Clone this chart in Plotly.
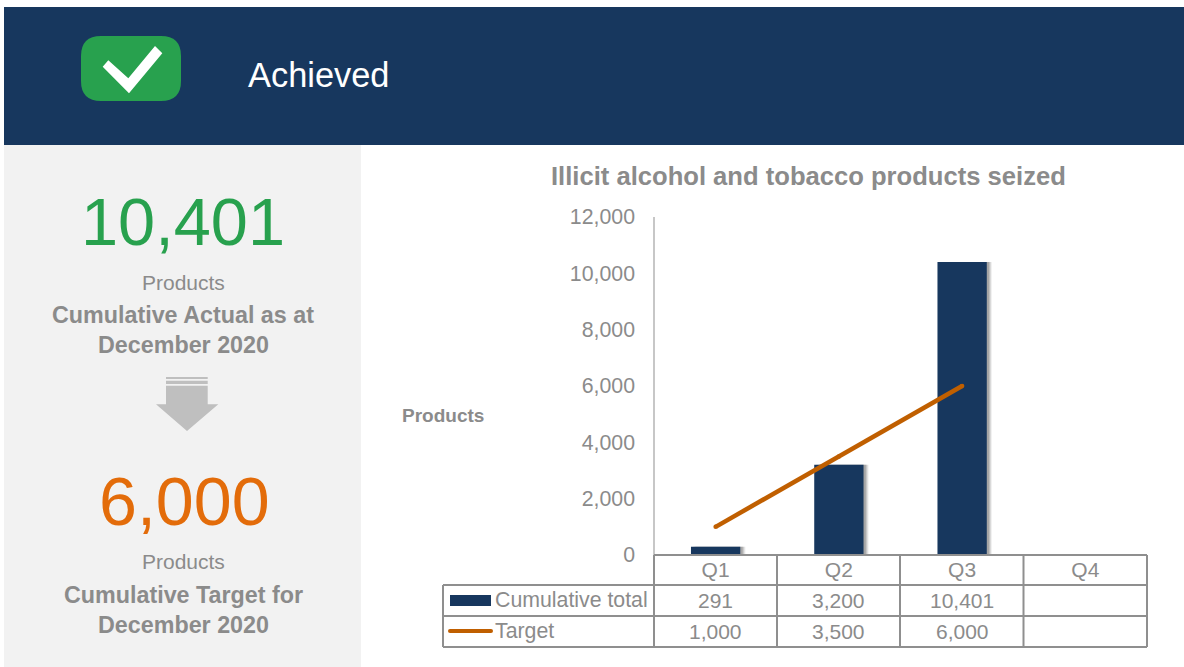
import plotly.graph_objects as go

quarters = ["Q1", "Q2", "Q3", "Q4"]
cumulative_total = [291, 3200, 10401, None]
target = [1000, 3500, 6000, None]
y_ticks = [0, 2000, 4000, 6000, 8000, 10000, 12000]

NAVY = "#17375e"
LINE = "#c05f00"
GREY = "#8b8b8b"
RULE = "#8f8f8f"
FONT = "Liberation Sans, Arial, sans-serif"
W, H = 1184, 667
PL, PR, PT, PB = 654, 1147, 217, 555


def px(x):
    return x / W


def py(y):
    return 1 - y / H


def fmt(v):
    return "" if v is None else f"{v:,}"


fig = go.Figure()

# soft shadow layers behind the bars
for off, alpha in [(0.042, 0.08), (0.034, 0.12), (0.026, 0.16), (0.018, 0.2)]:
    fig.add_trace(go.Bar(x=list(range(4)), y=cumulative_total, width=0.4, offset=-0.2 + off,
                         marker=dict(color=f"rgba(60,60,60,{alpha})", line_width=0),
                         hoverinfo="skip", showlegend=False))
fig.add_trace(go.Bar(x=list(range(4)), y=cumulative_total, width=0.4, offset=-0.2,
                     marker=dict(color=NAVY, line_width=0), name="Cumulative total"))
fig.add_trace(go.Scatter(x=list(range(4)), y=target, mode="lines+markers", name="Target",
                         line=dict(color=LINE, width=4.5), marker=dict(color=LINE, size=4.5)))

shapes = []


def rect(x0, y0, x1, y1, color):
    shapes.append(dict(type="rect", xref="paper", yref="paper", x0=px(x0), x1=px(x1), y0=py(y0), y1=py(y1),
                       fillcolor=color, line_width=0, layer="below"))


def hline(x0, x1, y, color=RULE, w=2):
    shapes.append(dict(type="line", xref="paper", yref="paper", x0=px(x0), x1=px(x1), y0=py(y), y1=py(y),
                       line=dict(color=color, width=w), layer="above"))


def vline(x, y0, y1, color=RULE, w=2):
    shapes.append(dict(type="line", xref="paper", yref="paper", x0=px(x), x1=px(x), y0=py(y0), y1=py(y1),
                       line=dict(color=color, width=w), layer="above"))


def poly(points, color, layer="above"):
    d = "M " + " L ".join(f"{px(x)},{py(y)}" for x, y in points) + " Z"
    shapes.append(dict(type="path", xref="paper", yref="paper", path=d, fillcolor=color, line_width=0, layer=layer))


rect(4, 7, 1184, 145, NAVY)
rect(4, 145, 361, 667, "#f2f2f2")

# rounded badge
bx0, bx1, by0, by1, r = 81, 181, 36, 101, 20
rp = (f"M {px(bx0 + r)},{py(by0)} L {px(bx1 - r)},{py(by0)} Q {px(bx1)},{py(by0)} {px(bx1)},{py(by0 + r)} "
      f"L {px(bx1)},{py(by1 - r)} Q {px(bx1)},{py(by1)} {px(bx1 - r)},{py(by1)} L {px(bx0 + r)},{py(by1)} "
      f"Q {px(bx0)},{py(by1)} {px(bx0)},{py(by1 - r)} L {px(bx0)},{py(by0 + r)} Q {px(bx0)},{py(by0)} {px(bx0 + r)},{py(by0)} Z")
shapes.append(dict(type="path", xref="paper", yref="paper", path=rp, fillcolor="#28a14e", line_width=0))
poly([(102.7, 66.7), (108.3, 60.3), (128.3, 78.3), (155, 46), (162.3, 53.3), (129, 93.3)], "#ffffff")

# down arrow
ARROW = "#bfbfbf"
rect(166, 377, 207.7, 379, ARROW)
rect(166, 380.7, 207.7, 384, ARROW)
poly([(166, 385.7), (207.7, 385.7), (207.7, 404.3), (218.3, 404.3), (187, 431), (156, 404.3), (166, 404.3)], ARROW)

# data table grid
for y in (585, 616, 647):
    hline(443, PR, y)
hline(PL, PR, PB)
vline(443, 585, 647)
for x in (PL, 777, 900, 1023.5, PR):
    vline(x, PB, 647)
vline(PL, PT, PB, w=1)

# legend keys inside table
rect(450, 595, 491, 606, NAVY)
shapes.append(dict(type="line", xref="paper", yref="paper", x0=px(450), x1=px(491), y0=py(631), y1=py(631),
                   line=dict(color=LINE, width=4)))
for cx in (450, 491):
    shapes.append(dict(type="circle", xref="paper", yref="paper", x0=px(cx - 2), x1=px(cx + 2),
                       y0=py(633), y1=py(629), fillcolor=LINE, line_width=0))

ann = []


def text(s, x, y, size, color=GREY, bold=False, anchor="center"):
    ann.append(dict(text=f"<b>{s}</b>" if bold else s, x=px(x), y=py(y), xref="paper", yref="paper",
                    xanchor=anchor, yanchor="middle", showarrow=False,
                    font=dict(family=FONT, size=size, color=color)))


text("Achieved", 246, 75, 34.4, "#ffffff", anchor="left")
text(fmt(cumulative_total[2]), 183, 222, 66.7, "#28a14e")
text("Products", 183, 282, 21)
text("Cumulative Actual as at", 183, 315, 23.3, bold=True)
text("December 2020", 183, 345, 23.3, bold=True)
text(fmt(target[2]), 184, 501, 68.2, "#e36c0a")
text("Products", 183, 561, 21)
text("Cumulative Target for", 183, 595, 23.3, bold=True)
text("December 2020", 183, 625, 23.3, bold=True)
text("Illicit alcohol and tobacco products seized", 809, 176, 25.6, bold=True)
text("Products", 443, 415, 19, bold=True)
text("Cumulative total", 493, 600, 21.3, anchor="left")
text("Target", 493, 631, 21.3, anchor="left")

for i, q in enumerate(quarters):
    cx = PL + (PR - PL) * (i + 0.5) / 4
    text(fmt(cumulative_total[i]), cx, 600, 21)
    text(fmt(target[i]), cx, 631, 21)

fig.update_layout(
    width=W, height=H, margin=dict(l=0, r=0, t=0, b=0, autoexpand=False), autosize=False,
    paper_bgcolor="#ffffff", plot_bgcolor="rgba(0,0,0,0)",
    barmode="overlay", showlegend=False, shapes=shapes, annotations=ann,
    xaxis=dict(domain=[px(PL), px(PR)], range=[-0.5, 3.5], tickmode="array", tickvals=list(range(4)),
               ticktext=quarters, showgrid=False, zeroline=False, showline=False, ticks="",
               tickfont=dict(family=FONT, size=21, color=GREY), ticklabelstandoff=0),
    yaxis=dict(domain=[py(PB), py(PT)], range=[0, 12000], tickmode="array", tickvals=y_ticks,
               ticktext=[fmt(v) for v in y_ticks], showgrid=False, zeroline=False, showline=False, ticks="",
               tickfont=dict(family=FONT, size=21.3, color=GREY), ticklabelstandoff=18),
)

fig.write_html("out.html", post_script="document.body.style.margin='0';",
               config={"displayModeBar": False})
